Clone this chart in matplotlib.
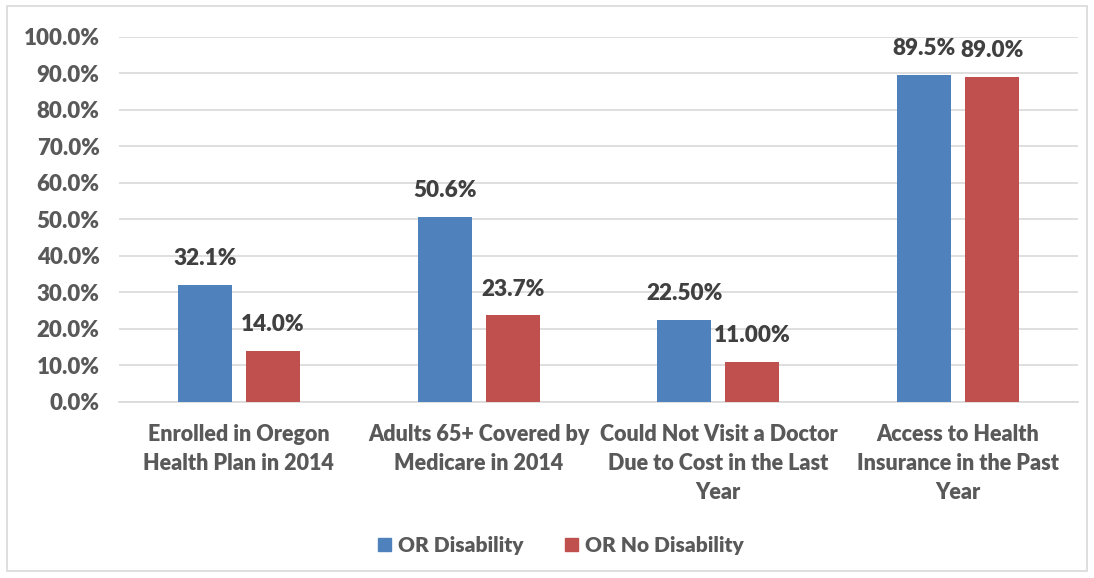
import numpy as np
import matplotlib.pyplot as plt
from matplotlib.patches import Rectangle, Patch
from matplotlib.ticker import PercentFormatter

categories = ['Enrolled in Oregon\nHealth Plan in 2014',
              'Adults 65+ Covered by\nMedicare in 2014',
              'Could Not Visit a Doctor\nDue to Cost in the Last\nYear',
              'Access to Health\nInsurance in the Past\nYear']
disability = [32.1, 50.6, 22.5, 89.5]
no_disability = [14.0, 23.7, 11.0, 89.0]
disability_labels = ['32.1%', '50.6%', '22.50%', '89.5%']
no_disability_labels = ['14.0%', '23.7%', '11.00%', '89.0%']

plt.rcParams['font.family'] = ['Lato', 'DejaVu Sans']
plt.rcParams['font.weight'] = 'heavy'

fig = plt.figure(figsize=(10.94, 5.78), dpi=100)
fig.patches.append(Rectangle((0.006, 0.012), 0.988, 0.977, transform=fig.transFigure,
                             fill=False, edgecolor='#d9d9d9', linewidth=1.2))
ax = fig.add_axes([0.1088, 0.3045, 0.8766, 0.6315])

x = np.arange(len(categories))
w = 0.225
off = 0.142
b1 = ax.bar(x - off, disability, w, color='#4f81bd', label='OR Disability', zorder=3)
b2 = ax.bar(x + off, no_disability, w, color='#c0504d', label='OR No Disability', zorder=3)

for bars, labs in ((b1, disability_labels), (b2, no_disability_labels)):
    for b, t in zip(bars, labs):
        ax.annotate(t, (b.get_x() + b.get_width() / 2, b.get_height()),
                    xytext=(0, 19), textcoords='offset points', ha='center', va='center',
                    fontsize=16.2, fontweight='heavy', color='#404040')

ax.set_xlim(-0.5, 3.5)
ax.set_ylim(0, 100)
ax.set_yticks(np.arange(0, 101, 10))
ax.yaxis.set_major_formatter(PercentFormatter(decimals=1))
ax.grid(axis='y', color='#d9d9d9', linewidth=1.2, zorder=0)
ax.set_xticks(x)
ax.set_xticklabels(categories, fontsize=15.5, fontweight='heavy', color='#595959',
                   linespacing=1.45)
ax.tick_params(axis='y', length=0, pad=14, labelsize=16, labelcolor='#595959')
ax.tick_params(axis='x', length=0, pad=16)
for s in ['top', 'right', 'left']:
    ax.spines[s].set_visible(False)
ax.spines['bottom'].set_color('#d9d9d9')
ax.spines['bottom'].set_linewidth(1.2)

handles = [Patch(color='#4f81bd'), Patch(color='#c0504d')]
leg = fig.legend(handles, ['OR Disability', 'OR No Disability'], loc='center',
                 bbox_to_anchor=(0.513, 0.057), ncol=2, frameon=False,
                 fontsize=15, handlelength=0.6, handleheight=0.6,
                 handletextpad=0.35, columnspacing=2.0)
for t in leg.get_texts():
    t.set_color('#595959')
    t.set_fontweight('heavy')

fig.savefig('out.png', dpi=100)
